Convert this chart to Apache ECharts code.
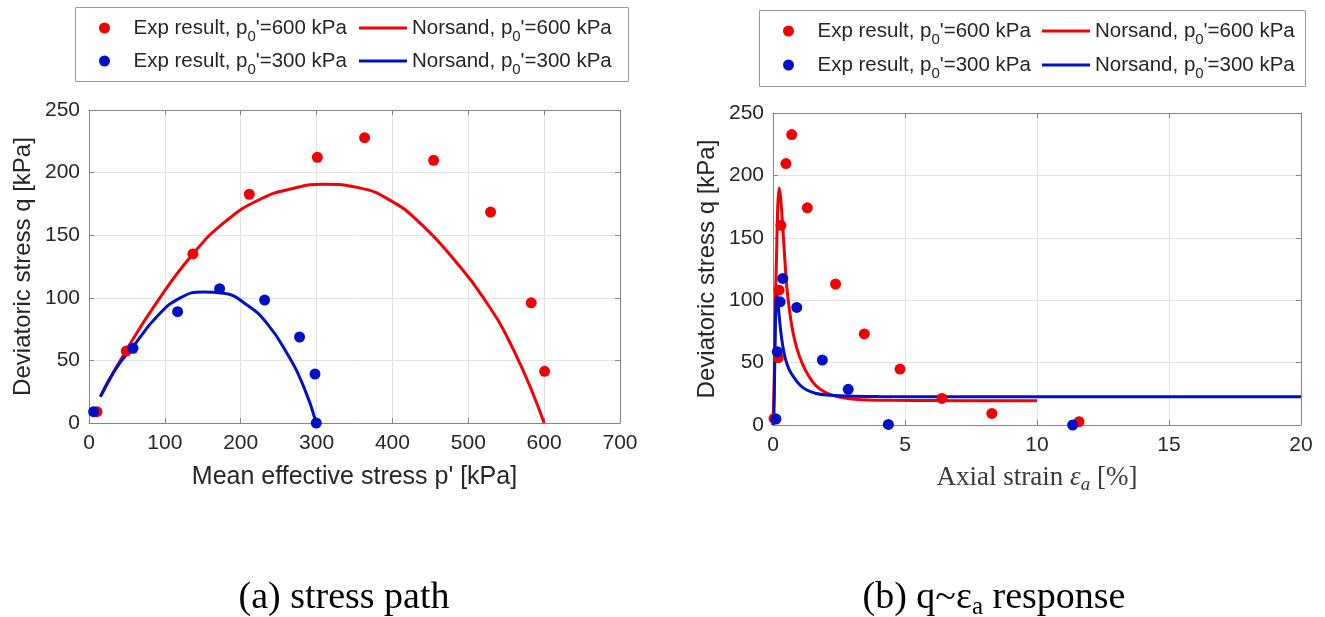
<!DOCTYPE html>
<html>
<head>
<meta charset="utf-8">
<script src="https://cdn.jsdelivr.net/npm/echarts@6/dist/echarts.min.js"></script>
<style>
  html, body { margin: 0; padding: 0; background: #ffffff; }
  #chart { width: 1325px; height: 617px; }
</style>
</head>
<body>
<div id="chart"></div>
<script>
// ---- (a) stress path: mean effective stress p' [kPa] vs deviatoric stress q [kPa]
const expP600 = [10.5, 49.2, 137, 211.3, 301, 363.3, 454.3, 529.4, 583, 600.6];
const expQ600 = [9, 57.5, 135, 182.7, 212.2, 227.9, 209.8, 168.5, 96, 41.3];
const expP300 = [6.1, 58, 116.8, 172.2, 231.5, 277.6, 297.9, 299.6];
const expQ300 = [9, 59.7, 88.9, 107.3, 98.2, 68.7, 39.1, 0];

const nsP600 = [15, 50, 90, 137, 180, 225, 270, 310, 355, 400, 440, 480, 520, 560, 600];
const nsQ600 = [21, 59, 97, 135, 161, 178.5, 187.5, 190.7, 188, 176.8, 157.6, 131.4, 100, 58, 0];
const nsP300 = [15, 35, 58, 89.6, 120.4, 151, 177.4, 208.3, 234.6, 261, 283, 299.6];
const nsQ300 = [21, 43, 61, 85, 100, 104.6, 103.6, 94.2, 79.6, 55.7, 29, 0];

// ---- (b) q vs axial strain [%]
const expEa600 = [0.04, 0.2, 0.23, 0.3, 0.49, 0.71, 1.3, 2.37, 3.46, 4.81, 6.4, 8.29, 11.59];
const expQa600 = [5.3, 54, 108, 160, 209.5, 232.7, 174, 112.9, 73, 44.8, 21.3, 9.3, 2.7];
const expEa300 = [0.11, 0.16, 0.27, 0.37, 0.9, 1.87, 2.85, 4.37, 11.35];
const expQa300 = [4.8, 58.7, 98.7, 117.4, 94.2, 52, 28.6, 0.5, 0];

const nsEa600 = [0, 0.03, 0.06, 0.1, 0.14, 0.18, 0.23, 0.28, 0.34, 0.42, 0.52, 0.65, 0.8, 1.0, 1.25, 1.6, 2.0, 2.5, 3.2, 4.5, 6, 8, 10];
const nsQa600 = [0, 20, 55, 105, 142, 175, 190, 184, 168, 142, 111, 88, 70, 55, 43, 32, 26, 22.5, 20.5, 19.8, 19.6, 19.5, 19.5];
const nsEa300 = [0, 0.03, 0.06, 0.09, 0.12, 0.15, 0.19, 0.24, 0.3, 0.38, 0.47, 0.6, 0.77, 1.0, 1.28, 1.6, 2.03, 2.79, 4, 6, 10, 15, 20];
const nsQa300 = [0, 5, 40, 80, 100, 104, 98, 86, 74, 62, 53, 45, 38.7, 32.5, 28, 25.5, 24, 23.2, 22.8, 22.7, 22.7, 22.7, 22.7];

// ---- axis ticks
const pTicks = { min: 0, max: 700, interval: 100 };
const eaTicks = { min: 0, max: 20, interval: 5 };
const qTicks = { min: 0, max: 250, interval: 50 };

// ---- series names (legend entries)
const NAME_EXP600 = "Exp result, p0'=600 kPa";
const NAME_EXP300 = "Exp result, p0'=300 kPa";
const NAME_NS600 = "Norsand, p0'=600 kPa";
const NAME_NS300 = "Norsand, p0'=300 kPa";

const RED = '#f00000';
const BLUE = '#0010c4';
const SANS = 'Liberation Sans, Arial, sans-serif';
const SERIF = 'Liberation Serif, Times New Roman, serif';
const TXT = '#262626';
const FRAME = '#858585';
const GRIDC = '#e2e2e2';

const zip = (xs, ys) => xs.map((x, i) => [x, ys[i]]);

function frameAxes(gridIndex, ticks, isX, name, nameGap, nameStyle) {
  const main = {
    type: 'value', gridIndex, min: ticks.min, max: ticks.max, interval: ticks.interval,
    position: isX ? 'bottom' : 'left',
    name, nameLocation: 'middle', nameGap, nameTextStyle: nameStyle,
    axisLine: { show: true, onZero: false, lineStyle: { color: FRAME, width: 1 } },
    axisTick: { show: true, inside: true, length: 5, lineStyle: { color: FRAME } },
    axisLabel: { show: true, margin: isX ? 10 : 9, fontSize: 21, fontFamily: SANS, color: TXT,
                 showMinLabel: true, showMaxLabel: true },
    splitLine: { show: true, lineStyle: { color: GRIDC, width: 1 } }
  };
  const opp = {
    type: 'value', gridIndex, min: ticks.min, max: ticks.max, interval: ticks.interval,
    position: isX ? 'top' : 'right',
    axisLine: { show: true, onZero: false, lineStyle: { color: FRAME, width: 1 } },
    axisTick: { show: true, inside: true, length: 5, lineStyle: { color: FRAME } },
    axisLabel: { show: false },
    splitLine: { show: false }
  };
  return [main, opp];
}

const yNameStyle = { fontFamily: SANS, fontSize: 24, color: TXT };
const pNameStyle = { fontFamily: SANS, fontSize: 25, color: TXT };
const eaNameStyle = {
  fontFamily: SERIF, fontSize: 27, color: '#3a3a3a', lineHeight: 33,
  rich: {
    it: { fontFamily: SERIF, fontStyle: 'italic', fontSize: 27, color: '#3a3a3a', lineHeight: 33 },
    sub: { fontFamily: SERIF, fontStyle: 'italic', fontSize: 19, color: '#3a3a3a', lineHeight: 14, verticalAlign: 'bottom' }
  }
};

const xAxes = [
  ...frameAxes(0, pTicks, true, "Mean effective stress p' [kPa]", 42, pNameStyle),
  ...frameAxes(1, eaTicks, true, 'Axial strain {it|ε}{sub|a} [%]', 36, eaNameStyle)
];
const yAxes = [
  ...frameAxes(0, qTicks, false, 'Deviatoric stress q [kPa]', 54, yNameStyle),
  ...frameAxes(1, qTicks, false, 'Deviatoric stress q [kPa]', 54, yNameStyle)
];

function scatterSeries(name, color, data, xi, yi, z) {
  return { name, type: 'scatter', xAxisIndex: xi, yAxisIndex: yi, data, symbol: 'circle', symbolSize: 11,
           itemStyle: { color, opacity: 1 }, clip: false, z, emphasis: { disabled: true } };
}
function lineSeries(name, color, data, xi, yi, z, smooth) {
  return { name, type: 'line', xAxisIndex: xi, yAxisIndex: yi, data, showSymbol: false, symbol: 'none',
           smooth, lineStyle: { color, width: 3 }, itemStyle: { color },
           z, emphasis: { disabled: true } };
}

const series = [
  lineSeries(NAME_NS600, RED, zip(nsP600, nsQ600), 0, 0, 2, 0.5),
  lineSeries(NAME_NS300, BLUE, zip(nsP300, nsQ300), 0, 0, 3, 0.5),
  scatterSeries(NAME_EXP600, RED, zip(expP600, expQ600), 0, 0, 4),
  scatterSeries(NAME_EXP300, BLUE, zip(expP300, expQ300), 0, 0, 5),
  lineSeries(NAME_NS600, RED, zip(nsEa600, nsQa600), 2, 2, 2, 0.3),
  lineSeries(NAME_NS300, BLUE, zip(nsEa300, nsQa300), 2, 2, 3, 0.3),
  scatterSeries(NAME_EXP600, RED, zip(expEa600, expQa600), 2, 2, 4),
  scatterSeries(NAME_EXP300, BLUE, zip(expEa300, expQa300), 2, 2, 5)
];

// legend entry with a subscripted "0" in p0'
function legendEntry(name, left, rowCenter, isLine) {
  const lh = 32;
  return {
    data: [name], left, top: rowCenter - lh / 2, orient: 'horizontal', padding: 0, itemGap: 0,
    selectedMode: false, icon: isLine ? 'rect' : 'circle',
    itemWidth: 48, itemHeight: isLine ? 3 : 11,
    itemStyle: { borderWidth: 0 },
    formatter: n => n.replace('p0', 'p{sub|0}'),
    textStyle: {
      fontFamily: SANS, fontSize: 20.5, color: TXT, lineHeight: lh,
      rich: { sub: { fontFamily: SANS, fontSize: 15, color: TXT, lineHeight: 14, verticalAlign: 'bottom' } }
    }
  };
}

const legends = [
  legendEntry(NAME_EXP600, 99, 28, false),
  legendEntry(NAME_NS600, 359, 28, true),
  legendEntry(NAME_EXP300, 99, 61, false),
  legendEntry(NAME_NS300, 359, 61, true),
  legendEntry(NAME_EXP600, 783, 31, false),
  legendEntry(NAME_NS600, 1042, 31, true),
  legendEntry(NAME_EXP300, 783, 65, false),
  legendEntry(NAME_NS300, 1042, 65, true)
];

const option = {
  backgroundColor: '#ffffff',
  animation: false,
  grid: [
    { left: 89, top: 110, width: 531, height: 313, outerBoundsMode: 'none', containLabel: false },
    { left: 773, top: 113, width: 528, height: 312, outerBoundsMode: 'none', containLabel: false }
  ],
  xAxis: xAxes,
  yAxis: yAxes,
  legend: legends,
  series,
  graphic: [
    { type: 'rect', shape: { x: 75.5, y: 7.5, width: 553, height: 74 }, style: { fill: '#fff', stroke: '#999', lineWidth: 1 }, z: 0, silent: true },
    { type: 'rect', shape: { x: 759.5, y: 10.5, width: 546, height: 76 }, style: { fill: '#fff', stroke: '#999', lineWidth: 1 }, z: 0, silent: true },
    { type: 'text', x: 344, y: 598, silent: true,
      style: { text: '(a) stress path', fontFamily: SERIF, fontSize: 38, fill: '#000', align: 'center', verticalAlign: 'middle' } },
    { type: 'text', x: 994, y: 598, silent: true,
      style: { text: '(b) q~ε{sub|a} response', fontFamily: SERIF, fontSize: 38, fill: '#000', align: 'center', verticalAlign: 'middle',
               lineHeight: 44,
               rich: { sub: { fontFamily: SERIF, fontSize: 25, fill: '#000', lineHeight: 25, verticalAlign: 'bottom' } } } }
  ]
};

const chart = echarts.init(document.getElementById('chart'), null, { renderer: 'canvas' });
chart.setOption(option);
</script>
</body>
</html>
